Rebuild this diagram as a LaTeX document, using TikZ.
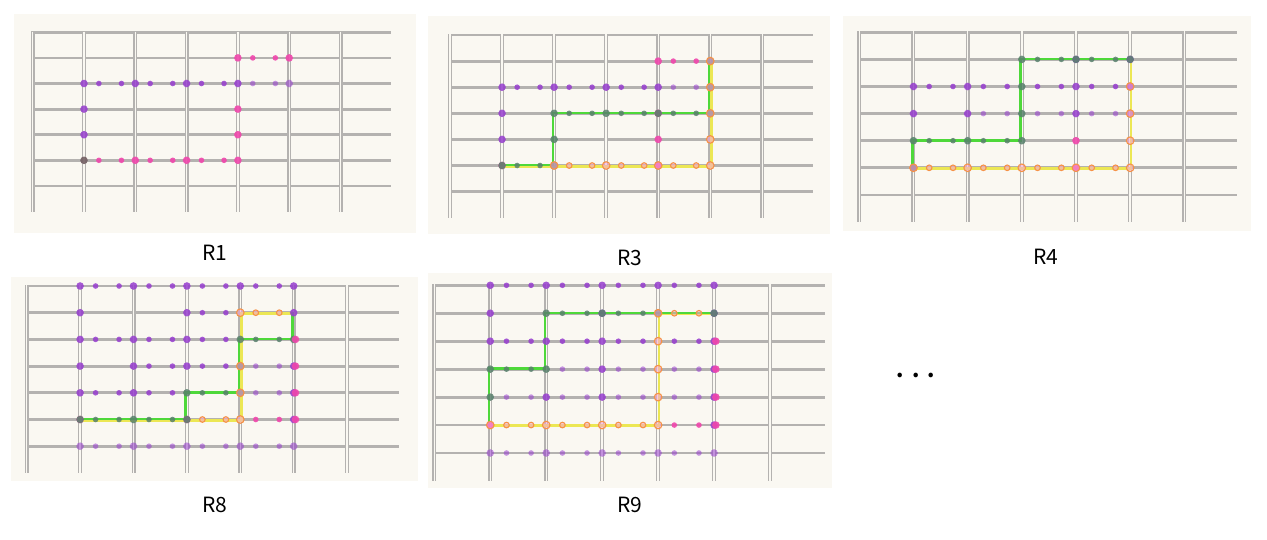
\documentclass[tikz,border=0pt]{standalone}
\usepackage{fontspec}
\usepackage{tikz}
\usetikzlibrary{positioning}

\newfontfamily\labelfont{Noto Sans CJK SC}

\definecolor{panelbg}{RGB}{250,248,242}
\definecolor{gridgray}{RGB}{180,178,176}
\definecolor{dpurple}{RGB}{150,60,206}
\definecolor{dpink}{RGB}{240,70,172}
\definecolor{dgreen}{RGB}{88,128,108}
\definecolor{ddark}{RGB}{115,95,100}
\definecolor{dorange}{RGB}{246,146,70}
\definecolor{pathgreen}{RGB}{78,216,58}
\definecolor{pathyellow}{RGB}{236,231,84}

% grid of one panel, in cell units
\newcommand{\drawgrid}{%
  \foreach \r in {0,...,6} \draw[hline] (-0.03,\r) -- (6.98,\r);
  \foreach \c in {0,...,6} \draw[vline] (\c,-0.03) -- (\c,7);
}
% small dots on a run of horizontal cells: style/row/first col/last col
\newcommand{\rundots}[1]{%
  \foreach \s/\r/\cfrom/\cto in {#1} {
    \pgfmathtruncatemacro{\clast}{\cto-1}
    \foreach \c in {\cfrom,...,\clast}
      \path[\s] (\c+0.29,\r) circle (2.8pt) (\c+0.73,\r) circle (2.8pt);
  }
}
% dots on crossings: style/col/row
\newcommand{\crossdots}[1]{%
  \foreach \s/\c/\r in {#1} \path[\s] (\c,\r) circle (3.8pt);
}

\begin{document}
\begin{tikzpicture}[
  x=1pt, y=-1pt,
  hline/.style={draw=gridgray, line width=2.8pt},
  vline/.style={draw=gridgray, double=panelbg, double distance=1.4pt, line width=1.3pt},
  dotpu/.style={fill=dpurple, fill opacity=.85},
  dotpl/.style={fill=dpurple, fill opacity=.55},
  dotpk/.style={fill=dpink, fill opacity=.9},
  dotpr/.style={dotpk, xshift=1.8pt},
  dotgn/.style={fill=dgreen, fill opacity=.85},
  dotdk/.style={fill=ddark, fill opacity=.9},
  dotog/.style={draw=dorange, line width=1.1pt, fill=dpink!50, fill opacity=.55},
  gpath/.style={draw=pathgreen, line width=2.6pt, xshift=-1.2pt, yshift=.4pt},
  ypath/.style={draw=pathyellow, line width=2.6pt, xshift=1pt, yshift=-.7pt},
  tag/.style={font=\labelfont\fontsize{21}{24}\selectfont, inner sep=0pt}
]

\fill[white] (0,0) rectangle (1267,539);
\useasboundingbox (0,0) rectangle (1267,539);

\fill[panelbg] (14,14) rectangle (416,233);
\fill[panelbg] (428,16) rectangle (830,234);
\fill[panelbg] (843,16) rectangle (1251,231);
\fill[panelbg] (11,277) rectangle (418,481);
\fill[panelbg] (428,273) rectangle (832,488);

% R1
\begin{scope}[shift={(32.7,32.3)}, x=51.3pt, y=-25.6pt]
  \drawgrid
  \rundots{dotpk/1/4/5, dotpu/2/1/4, dotpl/2/4/5, dotpk/5/1/4}
  \crossdots{dotpk/4/1, dotpk/5/1, dotpu/1/2, dotpu/2/2, dotpu/3/2, dotpu/4/2,
    dotpl/5/2, dotpu/1/3, dotpu/1/4, dotpk/4/3, dotpk/4/4, dotdk/1/5,
    dotpk/2/5, dotpk/3/5, dotpk/4/5}
\end{scope}

% R3
\begin{scope}[shift={(450,35)}, x=52.05pt, y=-26.1pt]
  \drawgrid
  \draw[ypath] (1,5) -| (5,1);
  \draw[gpath] (1,5) -| (2,3) -| (5,1);
  \rundots{dotpk/1/4/5, dotpu/2/1/4, dotpl/2/4/5, dotgn/3/2/5, dotgn/5/1/2, dotog/5/2/5}
  \crossdots{dotpk/4/1, dotgn/5/1, dotog/5/1, dotpu/1/2, dotpu/2/2, dotpu/3/2,
    dotpu/4/2, dotgn/5/2, dotog/5/2, dotpu/1/3, dotgn/2/3, dotgn/3/3,
    dotpk/4/3, dotgn/4/3, dotgn/5/3, dotog/5/3, dotpu/1/4, dotgn/2/4,
    dotpk/4/4, dotog/5/4, dotpk/1/5, dotgn/1/5, dotgn/2/5, dotog/2/5,
    dotog/3/5, dotpk/4/5, dotog/4/5, dotog/5/5}
\end{scope}

% R4
\begin{scope}[shift={(859.3,32.3)}, x=54.17pt, y=-27.1pt]
  \drawgrid
  \draw[ypath] (1,5) -| (5,1);
  \draw[gpath] (1,5) |- (3,4) |- (5,1);
  \rundots{dotgn/1/3/5, dotpu/2/1/5, dotpl/3/2/5, dotgn/4/1/3, dotog/5/1/5}
  \crossdots{dotgn/3/1, dotpu/4/1, dotgn/4/1, dotpu/5/1, dotgn/5/1, dotpu/1/2,
    dotpu/2/2, dotgn/3/2, dotpu/4/2, dotpu/5/2, dotog/5/2, dotpu/1/3,
    dotpu/2/3, dotgn/3/3, dotpu/4/3, dotpl/5/3, dotog/5/3, dotgn/1/4,
    dotgn/2/4, dotgn/3/4, dotpk/4/4, dotog/5/4, dotpk/1/5, dotgn/1/5,
    dotog/1/5, dotog/2/5, dotog/3/5, dotpk/4/5, dotog/4/5, dotog/5/5}
\end{scope}

% R8
\begin{scope}[shift={(26.7,286)}, x=53.4pt, y=-26.7pt]
  \drawgrid
  \draw[ypath] (1,5) -| (4,1) -- (5,1);
  \draw[gpath] (1,5) -| (3,4) -| (4,2) -| (5,1);
  \rundots{dotpu/0/1/5, dotpu/1/3/4, dotog/1/4/5, dotpu/2/1/4, dotgn/2/4/5,
    dotpu/3/2/4, dotpl/3/4/5, dotpu/4/1/3, dotgn/4/3/4, dotpl/4/4/5,
    dotgn/5/1/3, dotog/5/3/4, dotpk/5/4/5, dotpl/6/1/5}
  \crossdots{dotpu/1/0, dotpu/2/0, dotpu/3/0, dotpu/4/0, dotpu/5/0, dotpu/1/1,
    dotpu/3/1, dotog/4/1, dotpu/5/1, dotpu/1/2, dotpu/2/2, dotpu/3/2,
    dotgn/4/2, dotgn/5/2, dotpr/5/2, dotpu/1/3, dotpu/2/3, dotpu/3/3,
    dotgn/4/3, dotog/4/3, dotpu/5/3, dotpr/5/3, dotpu/1/4, dotpu/2/4,
    dotgn/3/4, dotgn/4/4, dotog/4/4, dotpu/5/4, dotpr/5/4, dotpk/1/5,
    dotgn/1/5, dotgn/2/5, dotpk/3/5, dotgn/3/5, dotog/4/5, dotpu/5/5,
    dotpr/5/5, dotpl/1/6, dotpl/2/6, dotpl/3/6, dotpl/4/6, dotpl/5/6}
\end{scope}

% R9
\begin{scope}[shift={(434.3,285.3)}, x=55.95pt, y=-27.95pt]
  \drawgrid
  \draw[ypath] (1,5) -| (4,1) -- (5,1);
  \draw[gpath] (1,5) |- (2,3) |- (5,1);
  \rundots{dotpu/0/1/5, dotgn/1/2/4, dotog/1/4/5, dotpu/2/1/5, dotgn/3/1/2,
    dotpl/3/2/5, dotpl/4/1/5, dotog/5/1/4, dotpk/5/4/5, dotpl/6/1/5}
  \crossdots{dotpu/1/0, dotpu/2/0, dotpu/3/0, dotpu/4/0, dotpu/5/0, dotpu/1/1,
    dotgn/2/1, dotpu/3/1, dotgn/3/1, dotgn/4/1, dotog/4/1, dotpu/5/1,
    dotgn/5/1, dotpu/1/2, dotpu/2/2, dotpu/3/2, dotog/4/2, dotpu/5/2,
    dotpr/5/2, dotgn/1/3, dotgn/2/3, dotpu/3/3, dotog/4/3, dotpu/5/3,
    dotpr/5/3, dotgn/1/4, dotpu/2/4, dotpu/3/4, dotog/4/4, dotpu/5/4,
    dotpr/5/4, dotpk/1/5, dotog/1/5, dotog/2/5, dotog/3/5, dotog/4/5,
    dotpu/5/5, dotpr/5/5, dotpl/1/6, dotpl/2/6, dotpl/3/6, dotpl/4/6, dotpl/5/6}
\end{scope}

\node[tag] (r1) at (214.5,253) {R1};
\node[tag] (r3) at (629.5,257.5) {R3};
\node[tag] (r4) at (1046,257) {R4};
\node[tag] (r8) at (214.7,504.7) {R8};
\node[tag] (r9) at (629.5,504.7) {R9};
\node[tag] (more) at (916,375) {\textbf{.\hspace{8pt}.\hspace{8pt}.}};

\end{tikzpicture}
\end{document}
